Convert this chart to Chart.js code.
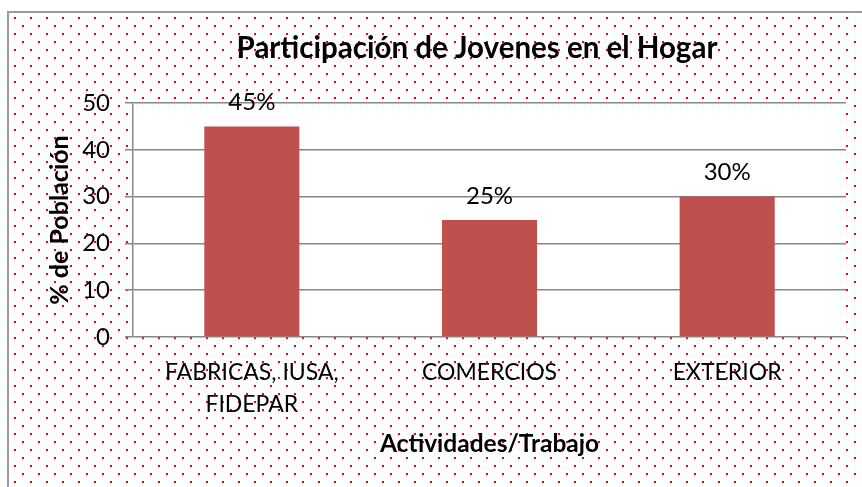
<!DOCTYPE html>
<html>
<head>
<meta charset="utf-8">
<script src="https://cdn.jsdelivr.net/npm/chart.js@4/dist/chart.umd.min.js"></script>
<style>
html,body{margin:0;padding:0;background:#fff;}
#wrap{position:relative;width:862px;height:487px;overflow:hidden;}
#frame{position:absolute;left:7px;top:11px;width:900px;height:520px;
border-left:2px solid #9c9c9c;border-top:2px solid #9c9c9c;background-position:5px 4px;}
#chart{position:absolute;left:0;top:0;}
</style>
</head>
<body>
<div id="wrap">
<div id="frame"></div>
<canvas id="chart" width="862" height="487"></canvas>
</div>
<script>
const categories=[["FABRICAS, IUSA,","FIDEPAR"],"COMERCIOS","EXTERIOR"];
const values=[45,25,30];
const valueLabels=["45%","25%","30%"];
const yTicks=[0,10,20,30,40,50];
const chartTitle="Participación de Jovenes en el Hogar";

// red dot pattern for the frame
const tile=document.createElement("canvas");
tile.width=16;tile.height=16;
const tc=tile.getContext("2d");
tc.fillStyle="#ff0000";
tc.fillRect(0,0,2,2);
tc.fillRect(8,8,2,2);
document.getElementById("frame").style.backgroundImage="url("+tile.toDataURL()+")";

const plotBg={
id:"plotBg",
beforeDraw(chart){
const a=chart.chartArea,c=chart.ctx;
c.save();
c.fillStyle="#ffffff";
c.fillRect(a.left,a.top,a.right-a.left,a.bottom-a.top);
c.restore();
}
};

// title sits over the whole frame, not just the plot
const titlePlugin={
id:"titlePlugin",
afterDraw(chart){
const c=chart.ctx;
c.save();
c.font="bold 29.5px Lato";
c.fillStyle="#000";
c.textAlign="center";
c.textBaseline="alphabetic";
c.fillText(chartTitle,477,58);
c.restore();
}
};

const barLabels={
id:"barLabels",
afterDatasetsDraw(chart){
const c=chart.ctx;
const meta=chart.getDatasetMeta(0);
c.save();
c.font="24px Lato";
c.fillStyle="#000";
c.textAlign="center";
c.textBaseline="middle";
meta.data.forEach((bar,i)=>{
c.fillText(valueLabels[i],bar.x,bar.y-24);
});
c.restore();
}
};

new Chart(document.getElementById("chart"),{
type:"bar",
data:{
labels:categories,
datasets:[{
data:values,
backgroundColor:"#c0504d",
borderWidth:0,
categoryPercentage:1,
barPercentage:0.4
}]
},
options:{
responsive:false,
animation:false,
layout:{padding:{top:103,left:45,right:16,bottom:28}},
plugins:{
legend:{display:false},
tooltip:{enabled:false},
title:{display:false}
},
scales:{
x:{
afterFit(scale){scale.paddingLeft=0;scale.paddingRight=0;scale.height=487-337-28;},
grid:{display:false,drawTicks:false},
border:{display:false},
ticks:{color:"#000",font:{family:"Lato",size:23,lineHeight:1.41},padding:19,maxRotation:0,autoSkip:false},
title:{display:true,text:"Actividades/Trabajo",color:"#000",
font:{family:"Lato",size:24.5,weight:"bold"},padding:{top:9,bottom:0}}
},
y:{
min:0,max:50,
afterBuildTicks(scale){scale.ticks=yTicks.map(v=>({value:v}));},
afterFit(scale){scale.width=133-45;scale.paddingTop=0;scale.paddingBottom=0;},
grid:{color:"#878787",lineWidth:1.5,tickLength:8},
border:{color:"#878787",width:1.5},
ticks:{color:"#000",font:{family:"Lato",size:24},padding:15},
title:{display:true,text:"% de Población",color:"#000",
font:{family:"Lato",size:25,weight:"bold"},padding:{top:0,bottom:10}}
}
}
},
plugins:[plotBg,barLabels,titlePlugin]
});
</script>
</body>
</html>
